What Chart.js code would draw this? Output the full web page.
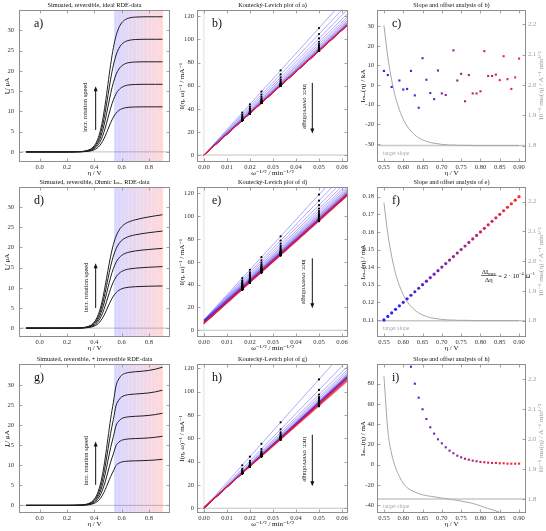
<!DOCTYPE html>
<html><head><meta charset="utf-8">
<script src="https://cdn.jsdelivr.net/npm/chart.js@4.4.1/dist/chart.umd.min.js"></script>
<style>
html,body{margin:0;padding:0;background:#fff;}
body{width:546px;height:531px;position:relative;overflow:hidden;}
canvas{position:absolute;}
</style></head><body>
<canvas id="pa"></canvas><canvas id="pb"></canvas><canvas id="pc"></canvas>
<canvas id="pd"></canvas><canvas id="pe"></canvas><canvas id="pf"></canvas>
<canvas id="pg"></canvas><canvas id="ph"></canvas><canvas id="pi"></canvas>
<script>
// ---------- data ----------
const ETA = [-0.1,0.0,0.1,0.2,0.3,0.34,0.38,0.40,0.42,0.44,0.46,0.48,0.50,0.52,0.54,0.56,0.58,0.60,0.63,0.66,0.70,0.75,0.80,0.85,0.90];
// a) ideal reversible currents (µA) for 400, 900, 1600, 2500, 3600 rpm
const A_400  = [0,0,0,0,0.03,0.09,0.28,0.51,0.90,1.55,2.55,3.92,5.56,7.19,8.56,9.56,10.21,10.60,10.90,11.02,11.08,11.10,11.11,11.11,11.11];
const A_900  = [0,0,0,0,0.04,0.13,0.43,0.77,1.36,2.33,3.82,5.88,8.33,10.79,12.85,14.34,15.31,15.90,16.35,16.54,16.63,16.66,16.67,16.67,16.67];
const A_1600 = [0,0,0,0,0.05,0.17,0.57,1.02,1.81,3.10,5.10,7.84,11.11,14.38,17.12,19.12,20.41,21.20,21.80,22.05,22.17,22.21,22.22,22.22,22.22];
const A_2500 = [0,0,0,0,0.06,0.22,0.71,1.28,2.26,3.88,6.37,9.81,13.89,17.97,21.41,23.90,25.52,26.50,27.25,27.56,27.72,27.77,27.78,27.78,27.78];
const A_3600 = [0,0,0,0,0.08,0.26,0.85,1.54,2.71,4.66,7.65,11.77,16.67,21.57,25.69,28.68,30.62,31.79,32.69,33.07,33.25,33.31,33.33,33.33,33.33];
// d) ohmic Imax
const D_400  = [0,0,0,0,0.03,0.09,0.28,0.51,0.89,1.52,2.48,3.77,5.27,6.73,7.93,8.81,9.38,9.74,10.03,10.17,10.27,10.34,10.39,10.43,10.46];
const D_900  = [0,0,0,0,0.04,0.13,0.43,0.76,1.34,2.27,3.67,5.54,7.69,9.78,11.48,12.71,13.52,14.04,14.47,14.70,14.86,14.99,15.10,15.18,15.26];
const D_1600 = [0,0,0,0,0.05,0.17,0.57,1.01,1.77,2.99,4.83,7.25,10.00,12.63,14.78,16.33,17.36,18.02,18.58,18.89,19.14,19.35,19.51,19.65,19.78];
const D_2500 = [0,0,0,0,0.06,0.22,0.70,1.26,2.20,3.72,5.96,8.90,12.20,15.32,17.87,19.70,20.92,21.71,22.40,22.80,23.14,23.43,23.67,23.88,24.07];
const D_3600 = [0,0,0,0,0.08,0.26,0.84,1.51,2.63,4.43,7.06,10.48,14.29,17.86,20.75,22.83,24.23,25.13,25.96,26.44,26.87,27.26,27.58,27.87,28.12];
// g) reversible + irreversible
const G_400  = [0,0,0,0,0.03,0.09,0.28,0.51,0.90,1.55,2.55,3.92,5.56,7.19,8.56,9.95,10.50,10.80,10.97,11.04,11.09,11.13,11.20,11.31,11.47];
const G_900  = [0,0,0,0,0.04,0.13,0.43,0.77,1.36,2.33,3.82,5.88,8.33,10.79,12.85,14.93,15.75,16.20,16.46,16.57,16.64,16.70,16.80,16.97,17.20];
const G_1600 = [0,0,0,0,0.05,0.17,0.57,1.02,1.81,3.10,5.10,7.84,11.11,14.38,17.12,19.90,21.00,21.60,21.94,22.08,22.18,22.26,22.40,22.62,22.93];
const G_2500 = [0,0,0,0,0.06,0.22,0.71,1.28,2.26,3.88,6.37,9.81,13.89,17.97,21.41,24.88,26.25,27.00,27.43,27.61,27.73,27.84,28.00,28.28,28.67];
const G_3600 = [0,0,0,0,0.08,0.26,0.85,1.54,2.71,4.66,7.65,11.77,16.67,21.57,25.69,29.85,31.49,32.39,32.91,33.13,33.27,33.40,33.60,33.93,34.40];

// Koutecky-Levich analysis
const OMEGA_INV_SQRT = [0.05,0.03333,0.025,0.02,0.016667];
const ETA_KL = [0.55,0.56,0.57,0.58,0.59,0.60,0.61,0.62,0.63,0.64,0.65,0.66,0.67,0.68,0.69,0.70,0.71,0.72,0.73,0.74,0.75,0.76,0.77,0.78,0.79,0.80,0.81,0.82,0.83,0.84,0.85,0.86,0.87,0.88,0.89,0.90];
const SLOPE_A = [2.196,2.092,2.016,1.959,1.918,1.887,1.864,1.848,1.835,1.826,1.819,1.814,1.810,1.808,1.806,1.804,1.803,1.802,1.802,1.801,1.801,1.801,1.801,1.800,1.800,1.800,1.800,1.800,1.800,1.800,1.800,1.800,1.800,1.800,1.800,1.800];
const OFFSET_A = [7.2,5.1,-1.0,null,2.3,-2.3,-2.0,7.2,-5.3,-11.6,13.7,2.7,-4.1,-7.2,7.4,-4.3,-5.1,null,17.7,2.3,5.7,-8.3,5.1,-4.3,-4.3,-3.2,17.3,4.6,4.6,5.3,2.5,14.7,3.0,-2.0,3.9,13.5];
const SLOPE_D = SLOPE_A;
const IMAX_D = [0.110,0.112,0.114,0.116,0.118,0.120,0.122,0.124,0.126,0.128,0.130,0.132,0.134,0.136,0.138,0.140,0.142,0.144,0.146,0.148,0.150,0.152,0.154,0.156,0.158,0.160,0.162,0.164,0.166,0.168,0.170,0.172,0.174,0.176,0.178,0.180];
const SLOPE_G = [2.21,2.03,1.95,1.905,1.875,1.852,1.838,1.829,1.823,1.818,1.814,1.811,1.809,1.807,1.805,1.803,1.801,1.799,1.797,1.795,1.793,1.790,1.788,1.785,1.781,1.777,1.772,1.768,1.764,1.760,1.755,1.749,1.743,1.737,1.731,1.725];
const OFFSET_G = [null,null,null,null,null,null,null,96.8,80.0,66.2,54.7,45.1,36.9,30.6,25.0,21.0,17.1,13.8,11.2,8.8,7.2,5.8,4.8,3.9,3.3,2.6,2.3,1.9,1.6,1.6,1.3,1.3,0.9,0.9,0.9,0.9];
const TARGET_SLOPE = 1.8;

// tick labels
const A_XT = [0,0.2,0.4,0.6,0.8];
const A_YT = [0,5,10,15,20,25,30];
const B_XT = [0,0.01,0.02,0.03,0.04,0.05,0.06];
const B_YT = [0,20,40,60,80,100,120];
const C_XT = [0.55,0.60,0.65,0.70,0.75,0.80,0.85,0.90];
const C_YT = [-30,-20,-10,0,10,20,30];
const F_YT = [0.11,0.12,0.13,0.14,0.15,0.16,0.17,0.18];
const I_YT = [-40,-20,0,20,40,60,80];
const M_YT = [1.8,1.9,2.0,2.1,2.2];

// ---------- helpers ----------
const SERIF = '"Liberation Serif","DejaVu Serif","Times New Roman",serif';
Chart.defaults.font.family = SERIF;
const COLS = [{x:0,w:174,yw:19,pr:4,tp:5,ttl:2.5},{x:178,w:174,yw:19,pr:4,tp:3,ttl:0},{x:356,w:190,yw:21,pr:0,tp:3,ttl:2.8}];
const ROWS = [{y:0,h:178},{y:177,h:176},{y:354,h:175}];
const TICK_FONT = 6.6;

function grad(k,a){const t=k/(ETA_KL.length-1);return `rgba(${Math.round(235*t+20)},${Math.round(20+10*t)},${Math.round(235*(1-t)+30)},${a})`;}
function fmtNum(v,d){return v.toFixed(d);}

function xAxis(min,max,ticks,dec,title){
  return {type:'linear',position:'bottom',min,max,
    afterBuildTicks:s=>{s.ticks=ticks.map(v=>({value:v}));},
    afterFit:s=>{s.height=16;},
    grid:{display:false,drawTicks:false},border:{display:false},
    ticks:{autoSkip:false,maxRotation:0,padding:1.5,color:'#333',font:{family:SERIF,size:TICK_FONT},callback:v=>fmtNum(v,dec)},
    title:{display:true,text:title,color:'#111',font:{family:SERIF,size:7},padding:{top:0,bottom:1}}};
}
function yAxis(min,max,ticks,dec,title,col,right){
  const C=COLS[col];
  return {type:'linear',position:right?'right':'left',min,max,
    afterBuildTicks:s=>{s.ticks=ticks.map(v=>({value:v}));},
    afterFit:s=>{s.width=right?20:C.yw;},
    grid:{display:false,drawTicks:false},border:{display:false},
    ticks:{autoSkip:false,padding:right?2:C.tp,color:right?'#9a9a9a':'#333',font:{family:SERIF,size:TICK_FONT},callback:v=>fmtNum(v,dec)},
    title:{display:!right,text:title,color:'#111',font:{family:SERIF,size:7},padding:{top:C.ttl,bottom:0}}};
}

const decoPlugin={
  id:'deco',
  beforeDatasetsDraw(chart,args,o){
    const {ctx,chartArea:a,scales}=chart;
    ctx.save();ctx.beginPath();ctx.rect(a.left,a.top,a.width,a.height);ctx.clip();
    (o.hlines||[]).forEach(h=>{const y=scales[h.axis].getPixelForValue(h.v);ctx.strokeStyle=h.color;ctx.lineWidth=h.width;ctx.beginPath();ctx.moveTo(a.left,y);ctx.lineTo(a.right,y);ctx.stroke();});
    (o.vlines||[]).forEach(h=>{const x=scales.x.getPixelForValue(h.v);ctx.strokeStyle=h.color;ctx.lineWidth=h.width;ctx.beginPath();ctx.moveTo(x,a.top);ctx.lineTo(x,a.bottom);ctx.stroke();});
    ctx.restore();
  },
  afterDatasetsDraw(chart,args,o){
    const {ctx,chartArea:a,scales}=chart;
    ctx.save();
    const L=Math.round(a.left)+0.5,T=Math.round(a.top)+0.5,R=Math.round(a.right)-0.5,B=Math.round(a.bottom)-0.5;
    ctx.strokeStyle='#8e8e8e';ctx.lineWidth=1;ctx.strokeRect(L,T,R-L,B-T);
    ctx.lineWidth=0.8;ctx.beginPath();
    scales.x.ticks.forEach(t=>{const p=Math.round(scales.x.getPixelForValue(t.value))+0.5;ctx.moveTo(p,B);ctx.lineTo(p,B-3);ctx.moveTo(p,T);ctx.lineTo(p,T+3);});
    scales.y.ticks.forEach(t=>{const p=Math.round(scales.y.getPixelForValue(t.value))+0.5;ctx.moveTo(L,p);ctx.lineTo(L+3,p);if(!scales.y2){ctx.moveTo(R,p);ctx.lineTo(R-3,p);}});
    if(scales.y2)scales.y2.ticks.forEach(t=>{const p=Math.round(scales.y2.getPixelForValue(t.value))+0.5;ctx.moveTo(R,p);ctx.lineTo(R-3,p);});
    ctx.stroke();
    ctx.fillStyle='#111';ctx.textAlign='center';ctx.textBaseline='middle';
    ctx.font=`6.3px ${SERIF}`;ctx.fillText(o.title,(a.left+a.right)/2,a.top-5);
    ctx.font=`12px ${SERIF}`;ctx.textAlign='left';ctx.fillText(o.label,a.left+15,a.top+13.5);
    if(o.arrow){
      const x=scales.x.getPixelForValue(o.arrow.x),y1=scales.y.getPixelForValue(o.arrow.y1),y2=scales.y.getPixelForValue(o.arrow.y2);
      const d=Math.sign(y2-y1);
      ctx.strokeStyle='#111';ctx.lineWidth=1;ctx.beginPath();ctx.moveTo(x,y1);ctx.lineTo(x,y2-d*4);ctx.stroke();
      ctx.beginPath();ctx.moveTo(x,y2);ctx.lineTo(x-2,y2-d*5);ctx.lineTo(x+2,y2-d*5);ctx.closePath();ctx.fill();
    }
    if(o.rtext){
      const x=scales.x.getPixelForValue(o.rtext.x),y=scales.y.getPixelForValue(o.rtext.y);
      ctx.save();ctx.translate(x,y);ctx.rotate(o.rtext.rot*Math.PI/180);ctx.font=`${o.rtext.size}px ${SERIF}`;ctx.textAlign='center';ctx.textBaseline='middle';ctx.fillText(o.rtext.text,0,0);ctx.restore();
    }
    if(o.rtitle){
      ctx.save();ctx.translate(chart.width-4.5,(a.top+a.bottom)/2);ctx.rotate(-Math.PI/2);
      ctx.fillStyle='#9a9a9a';ctx.font=`7px ${SERIF}`;ctx.textAlign='center';ctx.textBaseline='middle';ctx.fillText(o.rtitle,0,0);ctx.restore();
    }
    if(o.target){
      const y=scales.y2.getPixelForValue(o.target.v);
      ctx.fillStyle='#a8a8a8';ctx.font=`5.7px ${SERIF}`;ctx.textAlign='left';ctx.textBaseline='middle';ctx.fillText(o.target.text,a.left+6,y+7.5);
    }
    if(o.formula){
      const cx=a.left+o.formula.fx*a.width,cy=Math.round(a.top+o.formula.fy*a.height)+0.5;
      const big=`6.6px ${SERIF}`,small=`4.4px ${SERIF}`;
      ctx.fillStyle='#111';ctx.textAlign='left';ctx.textBaseline='alphabetic';
      ctx.font=big;const w1=ctx.measureText('ΔI').width;ctx.font=small;const w2=ctx.measureText('max').width;
      const x0=cx-(w1+w2)/2;
      ctx.font=big;ctx.fillText('ΔI',x0,cy-1.8);ctx.font=small;ctx.fillText('max',x0+w1,cy-0.6);
      ctx.font=big;const w3=ctx.measureText('Δη').width;ctx.fillText('Δη',cx-w3/2,cy+6.6);
      const hw=(w1+w2)/2+0.8;
      ctx.strokeStyle='#111';ctx.lineWidth=0.6;ctx.beginPath();ctx.moveTo(cx-hw,cy);ctx.lineTo(cx+hw,cy);ctx.stroke();
      let x=cx+hw+1.8;const base=cy+2.3;
      [['= 2 · 10',big,0],['−4',small,-3],[' Ω',big,0],['−1',small,-3]].forEach(([t,f,dy])=>{ctx.font=f;ctx.fillText(t,x,base+dy);x+=ctx.measureText(t).width;});
    }
    ctx.restore();
  }
};

function make(id,col,row,scales,datasets,deco){
  const c=document.getElementById(id),C=COLS[col],R=ROWS[row];
  c.width=C.w;c.height=R.h;c.style.left=C.x+'px';c.style.top=R.y+'px';
  return new Chart(c,{type:'line',data:{datasets},plugins:[decoPlugin],
    options:{responsive:false,animation:false,events:[],
      layout:{padding:{top:10,left:0,right:C.pr,bottom:0}},
      scales,plugins:{legend:{display:false},tooltip:{enabled:false},title:{display:false},deco}}});
}

// ---------- dataset builders ----------
function ivSets(curves,ymin,ymax){
  const stripes=ETA_KL.map((e,k)=>({data:[{x:e,y:ymin},{x:e,y:ymax}],borderColor:grad(k,0.14),borderWidth:1.6,pointRadius:0,order:5}));
  const lines=curves.map(arr=>({data:ETA.map((e,i)=>({x:e,y:arr[i]})),borderColor:'#1e1e1e',borderWidth:1,pointRadius:0,cubicInterpolationMode:'monotone',order:1}));
  return stripes.concat(lines);
}
function klSets(slopes,intercepts,xmax){
  const lines=ETA_KL.map((e,k)=>({data:[{x:0,y:intercepts[k]},{x:xmax,y:intercepts[k]+slopes[k]*1000*xmax}],borderColor:grad(k,0.45),borderWidth:0.8,pointRadius:0,order:100-k}));
  const dots=ETA_KL.map((e,k)=>({data:OMEGA_INV_SQRT.map(w=>({x:w,y:intercepts[k]+slopes[k]*1000*w})),showLine:false,pointRadius:1.1,pointBackgroundColor:'#000',pointBorderWidth:0,order:0}));
  return lines.concat(dots);
}
function anaSets(slopes,offsets,style,r){
  return [
    {data:ETA_KL.map((e,k)=>({x:e,y:offsets[k]})),showLine:false,pointStyle:style,pointRadius:r,pointBackgroundColor:ETA_KL.map((e,k)=>grad(k,0.95)),pointBorderWidth:0,order:1},
    {data:ETA_KL.map((e,k)=>({x:e,y:slopes[k]})),yAxisID:'y2',borderColor:'#a6a6a6',borderWidth:1,pointRadius:0,cubicInterpolationMode:'monotone',order:3}
  ];
}
const inv=(v,scale)=>v==null?0:1/(v*scale);

// ---------- panels ----------
const XL_ETA='η / V', XL_W='ω⁻¹ᐟ² / min⁻¹ᐟ²', YL_I='I / μA', YL_KL='I(η, ω)⁻¹ / mA⁻¹', YL_M='10⁻⁶ mₖₗ(η) / A⁻¹ min¹ᐟ²';
const AX=[-0.152,0.955], BX=[-0.003,0.0626], CX=[0.532,0.918];
const ROT_TXT='incr. rotation speed', OV_TXT='incr. overvoltage';

// Row 1
make('pa',0,0,{x:xAxis(AX[0],AX[1],A_XT,1,XL_ETA),y:yAxis(-2.5,35,A_YT,0,YL_I,0)},
  ivSets([A_400,A_900,A_1600,A_2500,A_3600],-2.5,35),
  {title:'Simuated, reversible, ideal RDE-data',label:'a)',hlines:[{axis:'y',v:0,color:'#b4b4b4',width:0.8}],
   arrow:{x:0.41,y1:5.4,y2:16.2},rtext:{x:0.331,y:11.0,text:ROT_TXT,rot:-90,size:6.5}});
make('pb',1,0,{x:xAxis(BX[0],BX[1],B_XT,2,XL_W),y:yAxis(-6,125.4,B_YT,0,YL_KL,1)},
  klSets(SLOPE_A,OFFSET_A.map(v=>inv(v,1e6)),BX[1]),
  {title:'Koutecký-Levich plot of a)',label:'b)',hlines:[{axis:'y',v:0,color:'#b4b4b4',width:0.8}],vlines:[{v:0,color:'#c8c8c8',width:0.6}],
   arrow:{x:0.0471,y1:62.4,y2:18.7},rtext:{x:0.0437,y:42,text:OV_TXT,rot:90,size:6.7}});
make('pc',2,0,{x:xAxis(CX[0],CX[1],C_XT,2,XL_ETA),y:yAxis(-39.3,38.3,C_YT,0,'Iₘₐₓ(η) / kA',2),y2:yAxis(1.746,2.247,M_YT,1,YL_M,2,true)},
  anaSets(SLOPE_A,OFFSET_A,'rect',1.5),
  {title:'Slope and offset analysis of b)',label:'c)',rtitle:YL_M,hlines:[{axis:'y2',v:TARGET_SLOPE,color:'#c8c8c8',width:1.5}],target:{v:TARGET_SLOPE,text:'target slope'}});

// Row 2
make('pd',0,1,{x:xAxis(AX[0],AX[1],A_XT,1,XL_ETA),y:yAxis(-2.2,35,A_YT,0,YL_I,0)},
  ivSets([D_400,D_900,D_1600,D_2500,D_3600],-2.2,35),
  {title:'Simuated, reversible, Ohmic Iₘₐₓ RDE-data',label:'d)',hlines:[{axis:'y',v:0,color:'#b4b4b4',width:0.8}],
   arrow:{x:0.41,y1:5.0,y2:16.1},rtext:{x:0.34,y:10.1,text:ROT_TXT,rot:-90,size:6.5}});
make('pe',1,1,{x:xAxis(BX[0],BX[1],B_XT,2,XL_W),y:yAxis(-5.9,125.5,B_YT,0,YL_KL,1)},
  klSets(SLOPE_D,IMAX_D.map(v=>inv(v,1)),BX[1]),
  {title:'Koutecký-Levich plot of d)',label:'e)',hlines:[{axis:'y',v:0,color:'#b4b4b4',width:0.8}],vlines:[{v:0,color:'#c8c8c8',width:0.6}],
   arrow:{x:0.0471,y1:63,y2:19.3},rtext:{x:0.0435,y:42.6,text:OV_TXT,rot:90,size:6.7}});
make('pf',2,1,{x:xAxis(CX[0],CX[1],C_XT,2,XL_ETA),y:yAxis(0.1003,0.1855,F_YT,2,'Iₘₐₓ(η) / mA',2),y2:yAxis(1.745,2.249,M_YT,1,YL_M,2,true)},
  anaSets(SLOPE_D,IMAX_D,'circle',1.6),
  {title:'Slope and offset analysis of e)',label:'f)',rtitle:YL_M,hlines:[{axis:'y2',v:TARGET_SLOPE,color:'#c8c8c8',width:1.5}],target:{v:TARGET_SLOPE,text:'target slope'},
   formula:{fx:0.75,fy:0.587}});

// Row 3
make('pg',0,2,{x:xAxis(AX[0],AX[1],A_XT,1,XL_ETA),y:yAxis(-1.9,35.2,A_YT,0,YL_I,0)},
  ivSets([G_400,G_900,G_1600,G_2500,G_3600],-1.9,35.2),
  {title:'Simuated, reversible, + irreversible RDE-data',label:'g)',hlines:[{axis:'y',v:0,color:'#b4b4b4',width:0.8}],
   arrow:{x:0.41,y1:5.1,y2:15.9},rtext:{x:0.34,y:11.1,text:ROT_TXT,rot:-90,size:6.5}});
make('ph',1,2,{x:xAxis(BX[0],BX[1],B_XT,2,XL_W),y:yAxis(-4.1,123.7,B_YT,0,YL_KL,1)},
  klSets(SLOPE_G,OFFSET_G.map(v=>inv(v,1)),BX[1]),
  {title:'Koutecký-Levich plot of g)',label:'h)',hlines:[{axis:'y',v:0,color:'#b4b4b4',width:0.8}],vlines:[{v:0,color:'#c8c8c8',width:0.6}],
   arrow:{x:0.0471,y1:63,y2:18.8},rtext:{x:0.0437,y:42,text:OV_TXT,rot:90,size:6.7}});
make('pi',2,2,{x:xAxis(CX[0],CX[1],C_XT,2,XL_ETA),y:yAxis(-47.9,99.5,I_YT,0,'Iₘₐₓ(η) / mA',2),y2:yAxis(1.753,2.251,M_YT,1,YL_M,2,true)},
  anaSets(SLOPE_G,OFFSET_G,'rect',1.5),
  {title:'Slope and offset analysis of h)',label:'i)',rtitle:YL_M,hlines:[{axis:'y2',v:TARGET_SLOPE,color:'#c8c8c8',width:1.5}],target:{v:TARGET_SLOPE,text:'target slope'}});
</script>
</body></html>
